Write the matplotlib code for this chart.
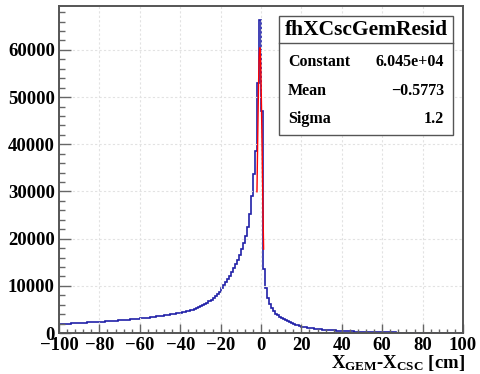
import numpy as np
import matplotlib
matplotlib.use('Agg')
import matplotlib.pyplot as plt
from matplotlib.ticker import MultipleLocator
from matplotlib.patches import Rectangle

# histogram: 1 cm bins from -100 to 100
edges = np.arange(-100, 101, 1)
counts = [
    1900, 1880, 1950, 1970, 2000, 1990, 2050, 2080, 2060, 2120,
    2150, 2130, 2200, 2180, 2240, 2260, 2230, 2300, 2340, 2370,
    2400, 2430, 2410, 2480, 2500, 2530, 2560, 2600, 2620, 2690,
    2750, 2720, 2790, 2830, 2860, 2900, 2950, 2980, 3030, 3060,
    3100, 3150, 3180, 3250, 3280, 3340, 3400, 3450, 3520, 3580,
    3650, 3700, 3760, 3820, 3900, 3950, 4030, 4100, 4180, 4250,
    4300, 4400, 4480, 4560, 4680, 4800, 4950, 5100, 5300, 5450,
    5700, 5900, 6150, 6400, 6700, 7000, 7350, 7750, 8200, 8700,
    9500, 10100, 10800, 11400, 12100, 12900, 13700, 14600, 15500, 16500,
    17700, 19000, 20600, 22500, 25200, 29000, 33800, 38500, 53000, 66300,
    47000, 13500, 9500, 7500, 6100, 5200, 4600, 4100, 3750, 3450,
    3200, 2900, 2650, 2450, 2250, 2050, 1900, 1750, 1600, 1450,
    1350, 1260, 1180, 1100, 1030, 970, 910, 860, 820, 780,
    740, 700, 660, 630, 590, 560, 530, 500, 470, 440,
    420, 400, 380, 360, 340, 330, 310, 290, 280, 260,
    250, 240, 230, 220, 210, 200, 190, 180, 170, 160,
    150, 145, 140, 130, 125, 120, 110, 105, 100, 95,
    90, 85, 80, 78, 75, 70, 68, 65, 60, 58,
    55, 52, 50, 48, 45, 43, 42, 40, 38, 36,
    35, 34, 32, 30, 30, 28, 27, 26, 25, 24,
]

# gaussian fit parameters
fit_const = 6.045e4
fit_mean = -0.5773
fit_sigma = 1.2
fit_range = (-2.0, 1.3)

stat_names = ["Constant", "Mean", "Sigma"]
stat_values = ["6.045e+04", "\u22120.5773", "1.2"]

plt.rcParams['font.family'] = 'Liberation Serif'
plt.rcParams['font.weight'] = 'bold'
plt.rcParams['mathtext.fontset'] = 'custom'
plt.rcParams['mathtext.rm'] = 'Liberation Serif:bold'
plt.rcParams['mathtext.it'] = 'Liberation Serif:bold'
plt.rcParams['mathtext.bf'] = 'Liberation Serif:bold'

fig = plt.figure(figsize=(4.81, 3.74), dpi=100)
ax = fig.add_axes([59/481, 1-333/374, (463-59)/481, (333-6)/374])

ax.stairs(counts, edges, color='#2020a8', lw=1.2)

xf = np.linspace(fit_range[0], fit_range[1], 100)
yf = fit_const*np.exp(-0.5*((xf-fit_mean)/fit_sigma)**2)
ax.plot(xf, yf, color='#ff0000', lw=1.0)

ax.set_xlim(-100, 100)
ax.set_ylim(0, 69300)
ax.xaxis.set_major_locator(MultipleLocator(20))
ax.xaxis.set_minor_locator(MultipleLocator(4))
ax.yaxis.set_major_locator(MultipleLocator(10000))
ax.yaxis.set_minor_locator(MultipleLocator(2000))
ax.tick_params(which='both', direction='in', top=False, right=False,
               color='#666666', width=1, labelsize=13.5)
ax.tick_params(axis='x', which='major', length=6.5, pad=3)
ax.tick_params(axis='x', which='minor', length=3.2)
ax.tick_params(axis='y', which='major', length=8.6, pad=3)
ax.tick_params(axis='y', which='minor', length=4.3)
for lab in ax.get_xticklabels() + ax.get_yticklabels():
    lab.set_fontweight('bold')
ax.grid(True, which='major', color='#e2e2e2', linestyle=(0, (2, 2)), lw=0.8)
for s in ax.spines.values():
    s.set_color('#555555')
    s.set_linewidth(1.4)

fig.text(465/481, 1-368/374, r'$\mathrm{X_{GEM}}$-$\mathrm{X_{CSC}}$ [cm]',
         ha='right', va='baseline', fontsize=13.5, fontweight='bold')

# stats box
bx0, bx1 = 279/481, 453/481
by0, by1 = 1-135/374, 1-16/374
fig.patches.append(Rectangle((bx0, by0), bx1-bx0, by1-by0, transform=fig.transFigure,
                             facecolor='white', edgecolor='#555555', lw=1.0, zorder=5))
fig.add_artist(plt.Line2D([bx0, bx1], [1-43/374, 1-43/374], transform=fig.transFigure,
                          color='#555555', lw=1.0, zorder=6))
fig.text((bx0+bx1)/2, 1-30/374, "fhXCscGemResid", ha='center', va='center',
         fontsize=15.5, fontweight='bold', zorder=7)
ys = [1-62/374, 1-91/374, 1-119/374]
for nm, val, yy in zip(stat_names, stat_values, ys):
    fig.text(288/481, yy, nm, ha='left', va='center', fontsize=11.5, fontweight='bold', zorder=7)
    fig.text(444/481, yy, val, ha='right', va='center', fontsize=11.5, fontweight='bold', zorder=7)

fig.savefig("out.png", dpi=100)
